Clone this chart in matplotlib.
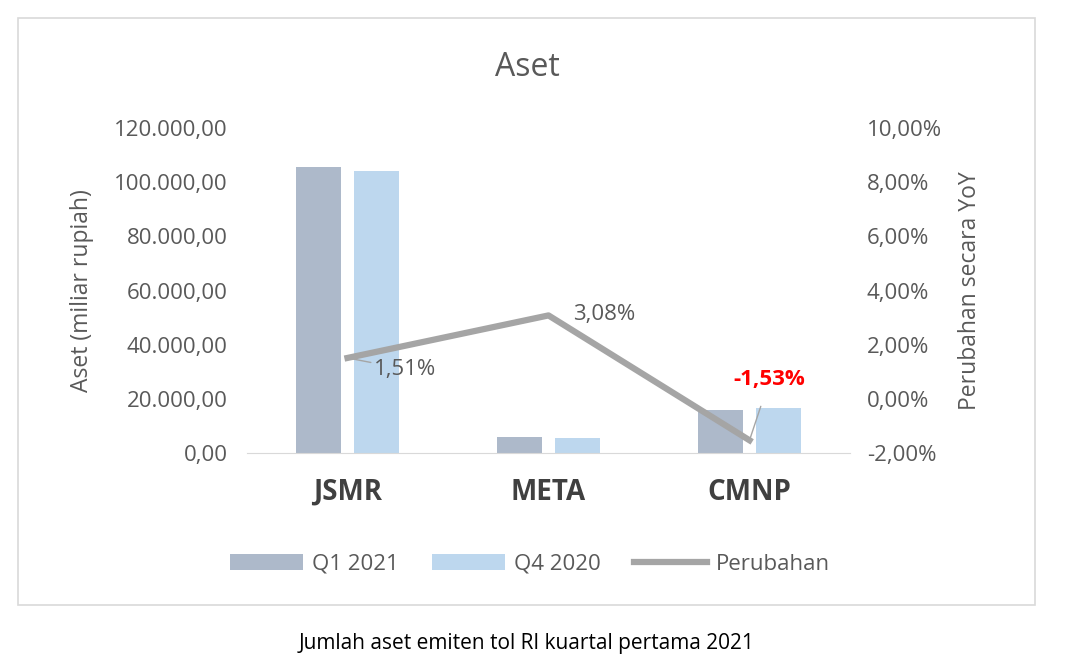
import matplotlib
matplotlib.use("Agg")
import matplotlib.pyplot as plt
import numpy as np
from matplotlib.patches import Rectangle

categories = ["JSMR", "META", "CMNP"]
q1_2021 = [105500, 6000, 16000]
q4_2020 = [104000, 5500, 16500]
perubahan = [1.51, 3.08, -1.53]
left_ticks = [0, 20000, 40000, 60000, 80000, 100000, 120000]
right_ticks = [-2, 0, 2, 4, 6, 8, 10]

def fmt_id(v):
    return f"{v:,.2f}".replace(",", "X").replace(".", ",").replace("X", ".")

plt.rcParams["font.family"] = "Open Sans"
tc = "#595959"
W, H = 1067, 666
fig = plt.figure(figsize=(W/100, H/100), dpi=100)
fig.patches.append(Rectangle((18/W, 1-605/H), (1035-18)/W, (605-18)/H, transform=fig.transFigure,
                             fill=False, edgecolor="#D9D9D9", lw=1.2))
ax = fig.add_axes([247/W, 1-453/H, (850-247)/W, (453-128)/H])
x = np.arange(len(categories))
bw = 0.224
ax.bar(x - bw/2 - 0.03, q1_2021, bw, color="#ADB9CA", label="Q1 2021")
ax.bar(x + bw/2 + 0.03, q4_2020, bw, color="#BDD7EE", label="Q4 2020")
ax.set_xlim(-0.5, 2.5)
ax.set_ylim(0, 120000)
ax.set_yticks(left_ticks)
ax.set_yticklabels([fmt_id(v) for v in left_ticks], fontsize=16, color=tc)
ax.set_xticks(x)
ax.set_xticklabels(categories, fontsize=20, fontweight="bold", color="#404040")
ax.tick_params(length=0, pad=14)
ax.tick_params(axis="x", pad=18)
for s in ["top", "right", "left"]:
    ax.spines[s].set_visible(False)
ax.spines["bottom"].set_color("#D9D9D9")
ax.set_ylabel("Aset (miliar rupiah)", fontsize=16.5, color=tc, labelpad=14)

ax2 = ax.twinx()
ax2.plot(x, perubahan, color="#A5A5A5", lw=4.5, label="Perubahan")
ax2.set_ylim(-2, 10)
ax2.set_yticks(right_ticks)
ax2.set_yticklabels([f"{v:.2f}%".replace(".", ",") for v in right_ticks], fontsize=16, color=tc)
ax2.tick_params(length=0, pad=12)
for s in ax2.spines.values():
    s.set_visible(False)
ax2.set_ylabel("Perubahan secara YoY", fontsize=16.5, color=tc, labelpad=12)

ax2.annotate("1,51%", (0, 1.51), xytext=(0.13, 1.1), fontsize=16, color=tc, va="center",
             arrowprops=dict(arrowstyle="-", color="#A5A5A5", shrinkA=0, shrinkB=0))
ax2.text(1.12, 3.1, "3,08%", fontsize=16, color=tc, va="center")
ax2.annotate("-1,53%", (2, -1.53), xytext=(2.1, 0.7), fontsize=16, color="red", fontweight="bold",
             ha="center", va="center",
             arrowprops=dict(arrowstyle="-", color="#A5A5A5", shrinkA=10, shrinkB=0))

fig.text(527/W, 1-67/H, "Aset", fontsize=23, color=tc, ha="center", va="center")
h1, l1 = ax.get_legend_handles_labels()
h2, l2 = ax2.get_legend_handles_labels()
fig.legend(h1+h2, l1+l2, loc="center", bbox_to_anchor=(530/W, 1-564/H), ncol=3, frameon=False,
           fontsize=16, labelcolor=tc, handlelength=3.3, columnspacing=1.5, handletextpad=0.4)
fig.text(527/W, 1-643/H, "Jumlah aset emiten tol RI kuartal pertama 2021", fontsize=15,
         color="black", ha="center", va="center")
fig.savefig("out.png", dpi=100)
